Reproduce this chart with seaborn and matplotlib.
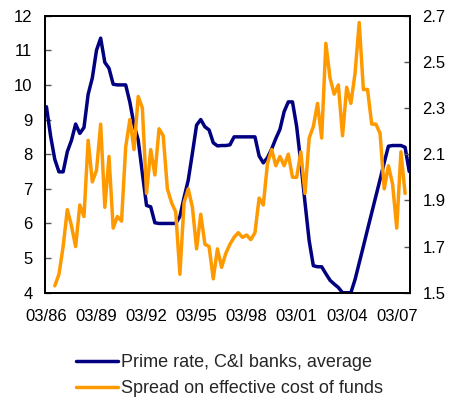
import numpy as np
import pandas as pd
import matplotlib
matplotlib.use("Agg")
import matplotlib.pyplot as plt
import seaborn as sns

# Quarterly series, 1986Q1 - 2007Q4
prime_rate = [
    9.37, 8.52, 7.85, 7.49, 7.49, 8.07, 8.40, 8.87, 8.60, 8.77,
    9.73, 10.20, 11.00, 11.35, 10.65, 10.48, 10.02, 10.00, 10.00, 10.00,
    9.50, 8.85, 8.41, 7.45, 6.52, 6.48, 6.02, 6.00, 6.00, 6.00,
    6.00, 6.00, 6.20, 6.75, 7.25, 8.03, 8.84, 9.00, 8.79, 8.70,
    8.33, 8.24, 8.25, 8.25, 8.27, 8.50, 8.50, 8.50, 8.50, 8.50,
    8.50, 7.95, 7.75, 7.90, 8.15, 8.45, 8.72, 9.23, 9.51, 9.51,
    8.80, 7.75, 6.60, 5.50, 4.78, 4.75, 4.75, 4.55, 4.36, 4.25,
    4.15, 4.00, 4.00, 4.00, 4.38, 4.86, 5.34, 5.83, 6.31, 6.79,
    7.27, 7.76, 8.23, 8.25, 8.25, 8.25, 8.20, 7.50,
]

# Spread series starts in 1986Q3 and ends in 2007Q3
spread_start = 2
spread = [
    1.53, 1.58, 1.70, 1.86, 1.79, 1.70, 1.88, 1.83, 2.16, 1.98,
    2.03, 2.23, 1.87, 2.09, 1.78, 1.83, 1.81, 2.13, 2.25, 2.12,
    2.35, 2.30, 1.93, 2.12, 2.01, 2.21, 2.18, 1.95, 1.89, 1.85,
    1.58, 1.89, 1.95, 1.87, 1.69, 1.84, 1.71, 1.70, 1.56, 1.69,
    1.61, 1.67, 1.71, 1.74, 1.76, 1.74, 1.75, 1.73, 1.76, 1.91,
    1.88, 2.06, 2.12, 2.05, 2.09, 2.05, 2.10, 2.00, 2.00, 2.11,
    1.93, 2.17, 2.22, 2.32, 2.17, 2.58, 2.43, 2.36, 2.40, 2.18,
    2.39, 2.32, 2.45, 2.67, 2.38, 2.38, 2.23, 2.23, 2.19, 1.95,
    2.05, 1.97, 1.78, 2.11, 1.93,
]

tick_labels = ["03/86", "03/89", "03/92", "03/95", "03/98", "03/01", "03/04", "03/07"]
tick_positions = [0, 12, 24, 36, 48, 60, 72, 84]

left_ticks = [4, 5, 6, 7, 8, 9, 10, 11, 12]
right_ticks = [1.5, 1.7, 1.9, 2.1, 2.3, 2.5, 2.7]

prime_label = "Prime rate, C&I banks, average"
spread_label = "Spread on effective cost of funds"

df_prime = pd.DataFrame({"quarter": np.arange(len(prime_rate)), "value": prime_rate})
df_spread = pd.DataFrame({"quarter": np.arange(len(spread)) + spread_start, "value": spread})

sns.set_style("white")
plt.rcParams["font.family"] = ["Liberation Sans", "DejaVu Sans"]

NAVY = "#000080"
ORANGE = "#FF9900"
FS = 12
LEGEND_FS = 13

fig = plt.figure(figsize=(4.54, 4.01), dpi=100)
ax = fig.add_axes([0.099, 0.270, 0.804, 0.691])
ax2 = ax.twinx()

sns.lineplot(data=df_prime, x="quarter", y="value", ax=ax, color=NAVY, lw=2.5,
             label=prime_label, legend=False)
sns.lineplot(data=df_spread, x="quarter", y="value", ax=ax2, color=ORANGE, lw=2.5,
             label=spread_label, legend=False)

ax.set_xlim(-0.36, 87.17)
ax.set_ylim(4, 12)
ax2.set_ylim(1.5, 2.7)
ax.set_xticks(tick_positions)
ax.set_xticklabels(tick_labels)
ax.set_yticks(left_ticks)
ax2.set_yticks(right_ticks)
ax2.set_yticklabels([f"{v:.1f}" for v in right_ticks])
ax.set_xlabel("")
ax.set_ylabel("")
ax2.set_ylabel("")

for a in (ax, ax2):
    for s in a.spines.values():
        s.set_visible(True)
        s.set_color("black")
        s.set_linewidth(1.3)

tick_style = dict(direction="in", length=4.5, width=1, color="#555555", labelcolor="black",
                  labelsize=FS)
ax.tick_params(axis="x", pad=12, **tick_style)
ax.tick_params(axis="y", pad=9, left=True, **tick_style)
ax2.tick_params(axis="y", pad=9, right=True, **tick_style)

h1, l1 = ax.get_legend_handles_labels()
h2, l2 = ax2.get_legend_handles_labels()
fig.legend(h1 + h2, l1 + l2, loc="center left", bbox_to_anchor=(0.167, 0.0630),
           frameon=False, fontsize=LEGEND_FS, handlelength=2.33, handletextpad=0.15,
           labelspacing=0.48, borderpad=0, borderaxespad=0)

fig.savefig("out.png", dpi=100)
